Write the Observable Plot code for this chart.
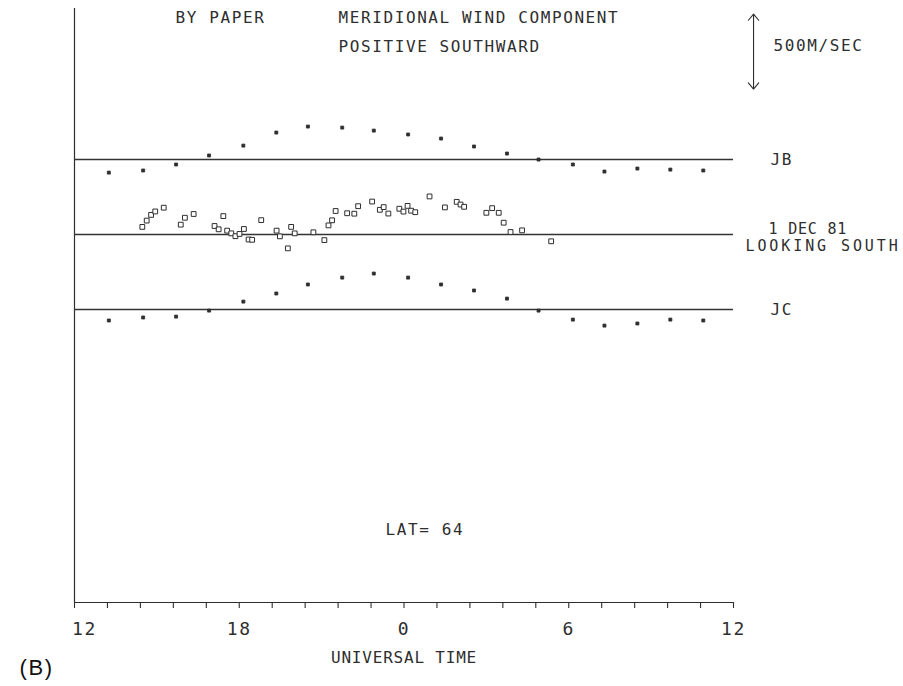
<!DOCTYPE html>
<html><head><meta charset="utf-8">
<script src="https://cdn.jsdelivr.net/npm/d3@7"></script>
<script src="https://cdn.jsdelivr.net/npm/@observablehq/plot@0.6"></script>
<style>
body{margin:0;background:#fff;}
#chart svg text{letter-spacing:1.6px;}
#chart svg text.caplabel{letter-spacing:0;}
#chart svg .tight text{letter-spacing:0.8px;}
#chart svg .wide text{letter-spacing:2.9px;}
</style></head><body><div id="chart"></div>
<script>
// hours after 12 UT
const jbjcTimes = [1.25, 2.5, 3.7, 4.9, 6.15, 7.35, 8.5, 9.75, 10.9, 12.15, 13.35, 14.55, 15.75, 16.9, 18.15, 19.3, 20.5, 21.7, 22.9];
// meridional wind, m/s, positive southward
const jbValues = [-87, -73, -33, 27, 93, 180, 220, 213, 193, 167, 140, 87, 40, 0, -33, -80, -60, -67, -73];
const jcValues = [-73, -53, -47, -7, 53, 107, 167, 213, 240, 213, 167, 127, 73, -7, -67, -107, -93, -67, -73];
const decTimes = [2.47, 2.63, 2.79, 2.94, 3.25, 3.87, 4.02, 4.34, 5.10, 5.25, 5.42, 5.56, 5.71, 5.86, 6.01, 6.17, 6.34, 6.47, 6.80, 7.36, 7.48, 7.77, 7.89, 8.02, 8.70, 9.10, 9.25, 9.38, 9.51, 9.93, 10.19, 10.33, 10.84, 11.12, 11.26, 11.43, 11.83, 11.98, 12.13, 12.26, 12.41, 12.93, 13.49, 13.92, 14.06, 14.19, 15.00, 15.21, 15.45, 15.63, 15.88, 16.30, 17.36];
const decValues = [51, 93, 131, 154, 179, 66, 112, 137, 57, 35, 123, 26, 8, -11, 4, 37, -33, -35, 96, 26, -12, -92, 51, 8, 15, -37, 61, 95, 157, 142, 139, 189, 220, 165, 183, 140, 172, 153, 191, 159, 149, 254, 181, 218, 200, 185, 145, 176, 145, 79, 17, 28, -45];

const seriesNames = ["JB", "1 DEC 81", "JC"];
const seriesOffsets = [500, 0, -500];   // m/s offset of each baseline
const scaleBarValue = 500;              // m/s
const scaleBarTop = 1470;
const scaleBarX = 24.73;
const xTickValues = [0, 6, 12, 18, 24];
const xTickLabels = ["12", "18", "0", "6", "12"];
const minorTicks = [0, 1.2, 2.4, 3.6, 4.8, 6, 7.2, 8.4, 9.6, 10.8, 12, 13.2, 14.4, 15.6, 16.8, 18, 19.2, 20.4, 21.6, 22.8, 24];
const yBottom = -2453, yTop = 1507;

const jb = jbjcTimes.map((t, i) => ({t, v: jbValues[i] + seriesOffsets[0]}));
const jc = jbjcTimes.map((t, i) => ({t, v: jcValues[i] + seriesOffsets[2]}));
const dec = decTimes.map((t, i) => ({t, v: decValues[i] + seriesOffsets[1]}));
const bases = seriesNames.map((name, i) => ({name, y: seriesOffsets[i]}));
const scaleMid = scaleBarTop - scaleBarValue / 2;

const ink = "#2e2e2e";
const mono = "DejaVu Sans Mono";
const fmtTick = d => xTickLabels[xTickValues.indexOf(d)];

const chart = Plot.plot({
  width: 903, height: 686,
  marginLeft: 74, marginRight: 170, marginTop: 8, marginBottom: 84,
  x: {domain: [0, 24], axis: null},
  y: {domain: [yBottom, yTop], axis: null},
  style: {fontFamily: mono, fontSize: "16px", color: ink, background: "white"},
  marks: [
    Plot.ruleX([0], {stroke: ink, strokeWidth: 1.2}),
    Plot.ruleY([yBottom], {stroke: ink, strokeWidth: 1.2}),
    Plot.axisX({ticks: minorTicks, tickSize: 6, tickFormat: () => "", label: null, stroke: ink, strokeWidth: 1.1}),
    Plot.axisX({ticks: xTickValues.slice(0, 1), tickSize: 0, tickPadding: 20, fontSize: 18, fill: ink, dx: 10, label: null, tickFormat: fmtTick}),
    Plot.axisX({ticks: xTickValues.slice(1), tickSize: 0, tickPadding: 20, fontSize: 18, fill: ink, label: null, tickFormat: fmtTick}),
    Plot.ruleY(bases, {y: "y", stroke: "#333", strokeWidth: 1.4}),
    Plot.dot(jb, {x: "t", y: "v", symbol: "square", r: 1.7, fill: ink, stroke: ink, strokeWidth: 0.8}),
    Plot.dot(jc, {x: "t", y: "v", symbol: "square", r: 1.7, fill: ink, stroke: ink, strokeWidth: 0.8}),
    Plot.dot(dec, {x: "t", y: "v", symbol: "square", r: 2.7, fill: "white", stroke: ink, strokeWidth: 1}),
    // series labels at their baselines
    Plot.text(bases.filter(d => d.name !== "1 DEC 81"), {y: "y", text: "name", frameAnchor: "right", dx: 37, textAnchor: "start", fontSize: 16, fill: ink}),
    Plot.text(bases.filter(d => d.name === "1 DEC 81"), {y: "y", text: "name", frameAnchor: "right", dx: 35, dy: -5, textAnchor: "start", fontSize: 15, fill: ink, className: "tight"}),
    Plot.text(["LOOKING SOUTH"], {y: [seriesOffsets[1]], text: d => d, frameAnchor: "right", dx: 12, dy: 12, textAnchor: "start", fontSize: 15, fill: ink, className: "wide"}),
    // scale bar (double-headed arrow)
    Plot.arrow([scaleBarValue], {x1: scaleBarX, x2: scaleBarX, y1: scaleMid, y2: scaleBarTop, stroke: ink, strokeWidth: 1.1, headLength: 11, headAngle: 80}),
    Plot.arrow([scaleBarValue], {x1: scaleBarX, x2: scaleBarX, y1: scaleMid, y2: scaleBarTop - scaleBarValue, stroke: ink, strokeWidth: 1.1, headLength: 11, headAngle: 80}),
    Plot.text(["500M/SEC"], {frameAnchor: "top-right", dx: 40, dy: 37, textAnchor: "start", lineAnchor: "middle", fontSize: 16, fill: ink}),
    // titles
    Plot.text(["BY PAPER"], {frameAnchor: "top-left", dx: 101, dy: 3, textAnchor: "start", lineAnchor: "top", fontSize: 16, fill: ink}),
    Plot.text(["MERIDIONAL WIND COMPONENT"], {frameAnchor: "top-left", dx: 264, dy: 3, textAnchor: "start", lineAnchor: "top", fontSize: 16, fill: ink}),
    Plot.text(["POSITIVE SOUTHWARD"], {frameAnchor: "top-left", dx: 264, dy: 32, textAnchor: "start", lineAnchor: "top", fontSize: 16, fill: ink}),
    Plot.text(["LAT= 64"], {frameAnchor: "top-left", dx: 311, dy: 521, textAnchor: "start", lineAnchor: "middle", fontSize: 16, fill: ink}),
    Plot.text(["UNIVERSAL TIME"], {frameAnchor: "bottom", dy: 55, lineAnchor: "middle", fontSize: 16, fill: ink, className: "tight"}),
    Plot.text(["(B)"], {frameAnchor: "bottom-left", dx: -55, dy: 65, lineAnchor: "middle", fontSize: 22, fontFamily: "Liberation Sans", fill: "#111", className: "caplabel"})
  ]
});
document.getElementById("chart").append(chart);
</script></body></html>
